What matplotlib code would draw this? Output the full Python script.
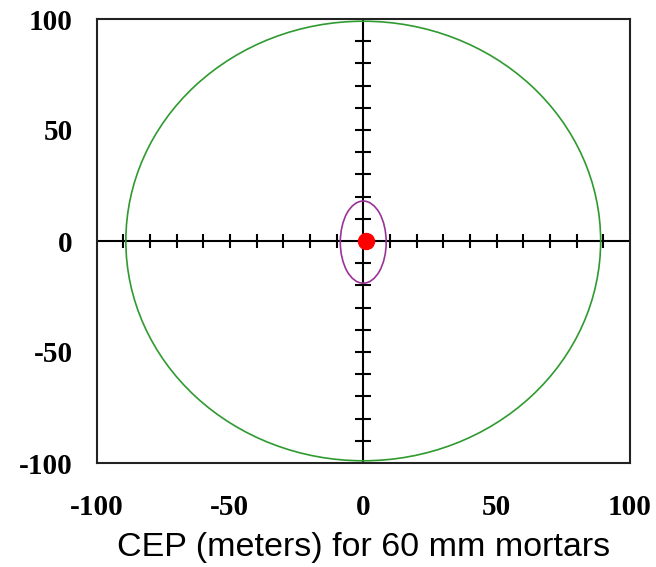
import numpy as np
import matplotlib
matplotlib.use("Agg")
import matplotlib.pyplot as plt
from matplotlib.patches import Ellipse

# CEP ellipses (center x, center y, x-radius, y-radius)
outer_ellipse = (0.0, 0.0, 89.0, 99.0)
inner_ellipse = (0.0, -0.5, 8.6, 18.5)
impact_point = (0.9, 0.0)

cross_ticks = [-90, -80, -70, -60, -50, -40, -30, -20, -10,
               10, 20, 30, 40, 50, 60, 70, 80, 90]
tick_values = [-100, -50, 0, 50, 100]
tick_labels = ["-100", "-50", "0", "50", "100"]
xlabel = "CEP (meters) for 60 mm mortars"

fig = plt.figure(figsize=(6.56, 5.67), dpi=100)
ax = fig.add_axes([96.5 / 656, 1 - 463 / 567, (630 - 96.5) / 656, (463 - 19) / 567])

# cross hairs with small marks every 10 m
ax.axhline(0, color="black", lw=1.5, zorder=2)
ax.axvline(0, color="black", lw=1.5, zorder=2)
ax.plot(cross_ticks, np.zeros(len(cross_ticks)), ls="none", marker="|",
        ms=10, mew=1.5, color="black", zorder=2)
ax.plot(np.zeros(len(cross_ticks)), cross_ticks, ls="none", marker="_",
        ms=12, mew=1.5, color="black", zorder=2)

cx, cy, rx, ry = outer_ellipse
ax.add_patch(Ellipse((cx, cy), 2 * rx, 2 * ry, fill=False,
                     edgecolor="#2f9a2f", lw=1.2, zorder=3))
cx, cy, rx, ry = inner_ellipse
ax.add_patch(Ellipse((cx, cy), 2 * rx, 2 * ry, fill=False,
                     edgecolor="#993399", lw=1.2, zorder=3))
ax.plot([impact_point[0]], [impact_point[1]], "o", color="red", ms=11.5, zorder=4)

ax.set_xlim(-100, 100)
ax.set_ylim(-100, 100)
ax.set_xticks(tick_values, tick_labels)
ax.set_yticks(tick_values, tick_labels)
ax.tick_params(length=0)
ax.tick_params(axis="x", pad=22)
ax.tick_params(axis="y", pad=17)
for lab in ax.get_xticklabels() + ax.get_yticklabels():
    lab.set_fontfamily("Liberation Serif")
    lab.set_fontweight("bold")
    lab.set_fontsize(21)

for sp in ax.spines.values():
    sp.set_linewidth(1.5)
    sp.set_color("#222222")

ax.set_xlabel(xlabel, fontfamily="Liberation Sans", fontsize=24.5, labelpad=8)

fig.savefig("out.png", dpi=100)
